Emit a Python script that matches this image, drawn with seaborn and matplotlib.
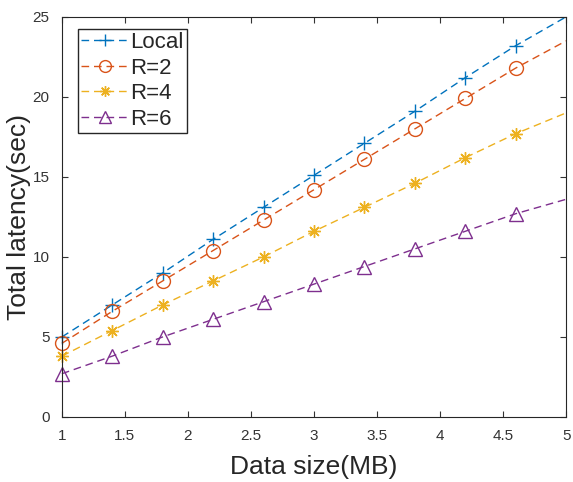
import numpy as np
import pandas as pd
import matplotlib
matplotlib.use("Agg")
import matplotlib.pyplot as plt
import seaborn as sns

# Data (last point at x=5 has no marker)
data_size = [1.0, 1.4, 1.8, 2.2, 2.6, 3.0, 3.4, 3.8, 4.2, 4.6, 5.0]
local = [5.0, 7.0, 9.0, 11.1, 13.1, 15.1, 17.1, 19.1, 21.2, 23.2, 25.0]
r2 = [4.6, 6.6, 8.5, 10.4, 12.3, 14.2, 16.1, 18.0, 19.9, 21.8, 23.5]
r4 = [3.8, 5.4, 7.0, 8.5, 10.0, 11.6, 13.1, 14.6, 16.2, 17.7, 19.0]
r6 = [2.7, 3.8, 5.0, 6.1, 7.2, 8.3, 9.4, 10.5, 11.6, 12.7, 13.6]

labels = ["Local", "R=2", "R=4", "R=6"]
colors = ["#0072BD", "#D95319", "#EDB120", "#7E2F8E"]
markers = ["+", "o", (8, 2, 0), "^"]
msizes = [10, 10, 9, 10]

sns.set_style("ticks")
plt.rcParams['font.family'] = ['Liberation Sans', 'DejaVu Sans']

fig = plt.figure(figsize=(5.73, 4.82), dpi=100)
ax = fig.add_axes([0.108, 0.135, 0.880, 0.830])

for series, lab, col, mk, ms in zip([local, r2, r4, r6], labels, colors, markers, msizes):
    df = pd.DataFrame({"x": data_size, "y": series})
    sns.lineplot(data=df, x="x", y="y", ax=ax, label=lab, color=col,
                 marker=mk, markevery=list(range(len(data_size) - 1)),
                 markersize=ms, markerfacecolor="none", markeredgecolor=col,
                 markeredgewidth=1.0, linewidth=1.0,
                 dashes=(5.5, 3.5), clip_on=False)

ax.set_xlim(1, 5)
ax.set_ylim(0, 25)
ax.set_xticks(np.arange(1, 5.01, 0.5))
ax.set_xticklabels(["1", "1.5", "2", "2.5", "3", "3.5", "4", "4.5", "5"])
ax.set_yticks([0, 5, 10, 15, 20, 25])
ax.tick_params(direction="in", length=4, width=0.8, top=True, right=True,
               labelsize=11, colors="#333333", pad=9)
for sp in ax.spines.values():
    sp.set_visible(True)
    sp.set_color("#262626")
    sp.set_linewidth(0.8)

ax.set_xlabel("Data size(MB)", fontsize=19, color="#262626", labelpad=8)
ax.set_ylabel("Total latency(sec)", fontsize=19, color="#262626", labelpad=1)

leg = ax.legend(loc="upper left", bbox_to_anchor=(0.032, 0.97), fontsize=16,
                frameon=True, fancybox=False, edgecolor="#262626",
                handlelength=2.1, handletextpad=0.1, borderpad=0.15,
                labelspacing=0.2, borderaxespad=0, markerscale=0.85)
leg.get_frame().set_linewidth(1.0)
leg.get_frame().set_alpha(1)

plt.savefig("out.png", dpi=100)
